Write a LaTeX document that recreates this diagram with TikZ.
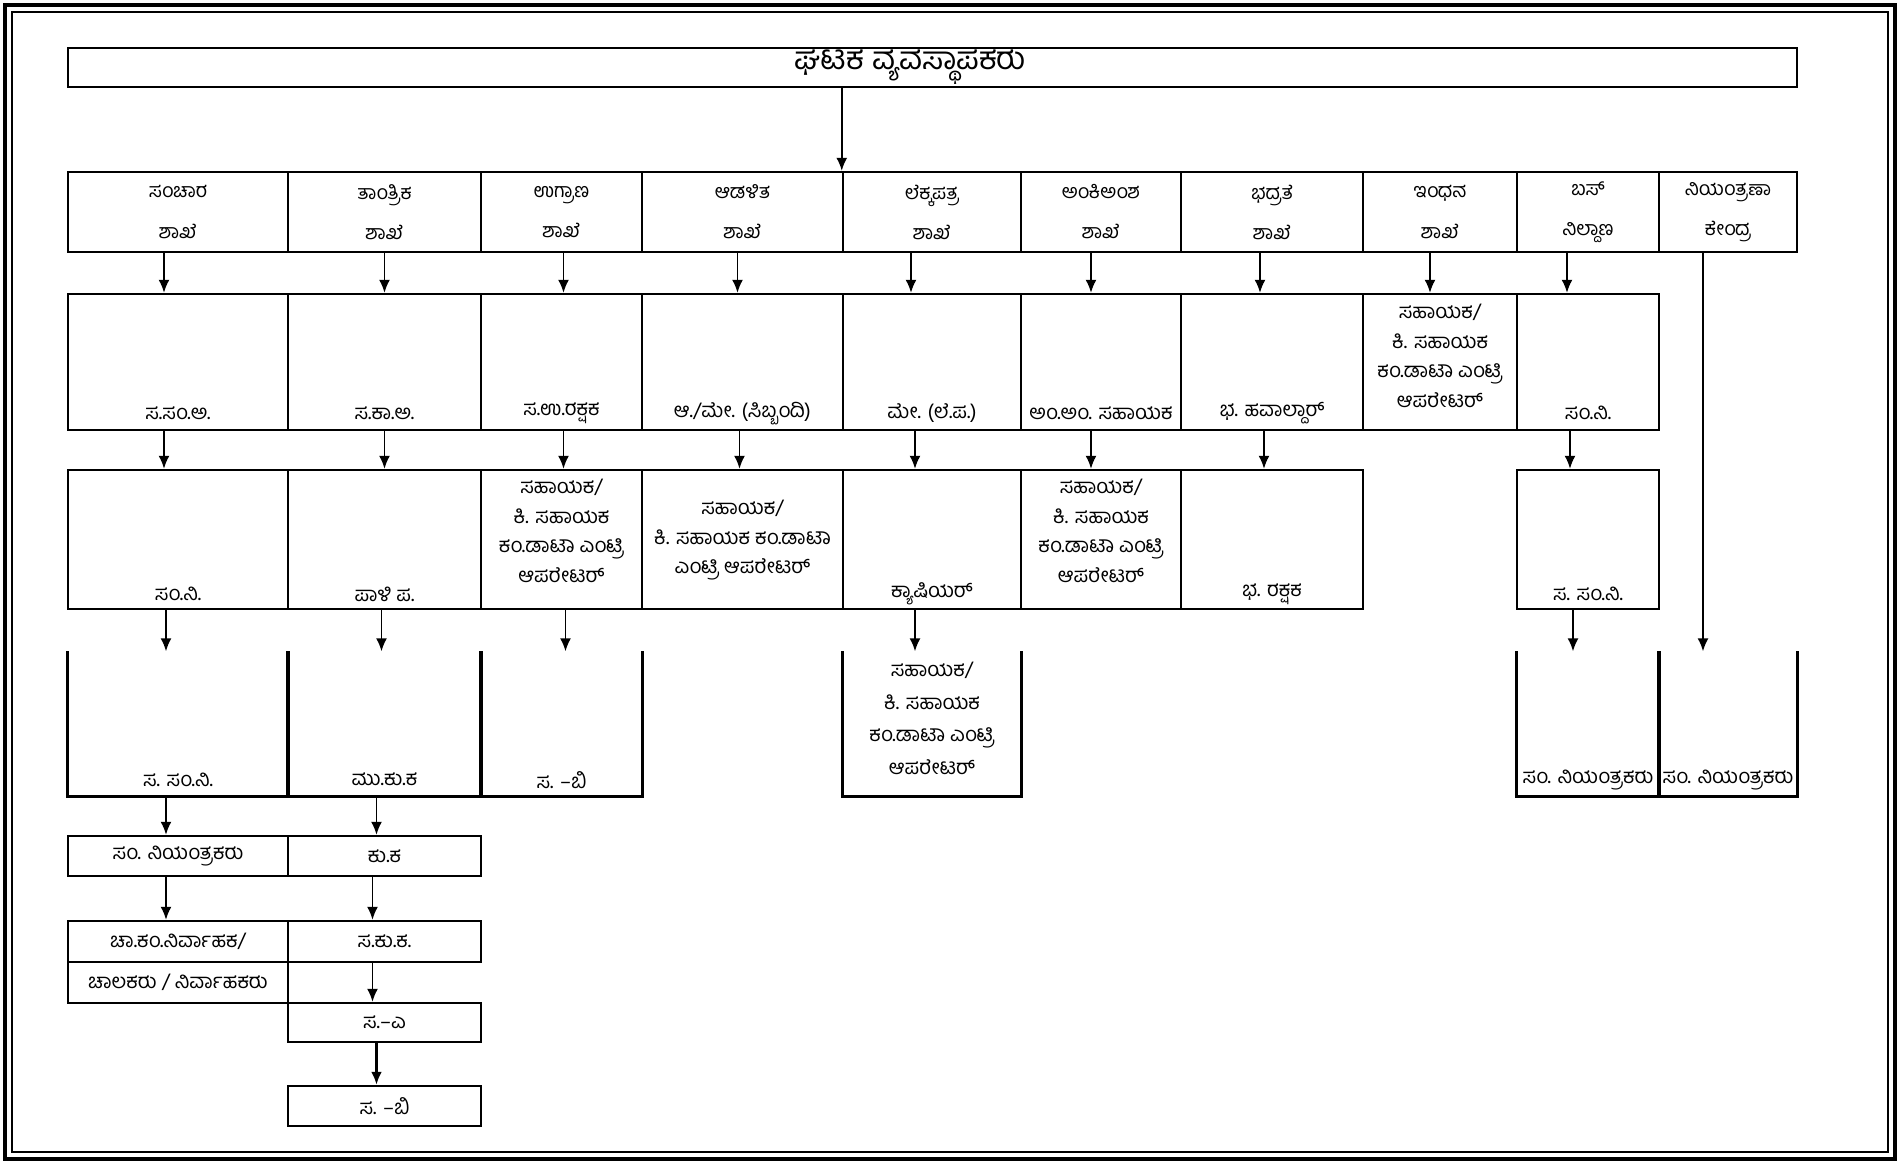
\documentclass[tikz,border=0pt]{standalone}
\usepackage{fontspec}
\newfontfamily\kn[Script=Kannada]{Hind Mysuru}
\usetikzlibrary{arrows.meta, positioning, calc}

\begin{document}
\begin{tikzpicture}[x=0.1mm, y=-0.1mm,
  box/.style n args={4}{inner sep=0pt, minimum width={(#3-#1)*0.1mm}, minimum height={(#4-#2)*0.1mm}, at={({(#1+#3)/2},{(#2+#4)/2})}},
  cell/.style={draw, line width=0.7pt},
  txt/.style={font=\kn\fontsize{5.8}{8.4}\selectfont, align=center, inner sep=0pt},
  head/.style={font=\kn\fontsize{5.6}{11.4}\selectfont, align=center},
  arr/.style={-{Latex[length=1.3mm, width=1.1mm]}, line width=0.5pt}]
% Page frame
\useasboundingbox (0,0) rectangle (1900,1164);
\draw[line width=1.2pt] (5,5) rectangle (1895,1159);
\draw[line width=0.4pt] (12,12) rectangle (1888,1152);

% Depot manager
\node[box={68}{48}{1797}{87}, cell] (dm) {};
\node[font=\kn\fontsize{9}{10}\selectfont, inner sep=0pt] (dmt) at ([xshift=-2.2mm]dm.center) {ಘಟಕ ವ್ಯವಸ್ಥಾಪಕರು};

% Sections
\foreach \i/\xa/\xb/\t in {1/68/288/{ಸಂಚಾರ\\ಶಾಖೆ}, 2/288/481/{ತಾಂತ್ರಿಕ\\ಶಾಖೆ}, 3/481/642/{ಉಗ್ರಾಣ\\ಶಾಖೆ}, 4/642/843/{ಆಡಳಿತ\\ಶಾಖೆ}, 5/843/1021/{ಲೆಕ್ಕಪತ್ರ\\ಶಾಖೆ}, 6/1021/1181/{ಅಂಕಿಅಂಶ\\ಶಾಖೆ}, 7/1181/1363/{ಭದ್ರತೆ\\ಶಾಖೆ}, 8/1363/1517/{ಇಂಧನ\\ಶಾಖೆ}, 9/1517/1659/{ಬಸ್\\ನಿಲ್ದಾಣ}, 10/1659/1797/{ನಿಯಂತ್ರಣಾ\\ಕೇಂದ್ರ}}
  \node[box={\xa}{172}{\xb}{252}, cell, head] (h\i) {\t};
\draw[arr] (dm.south -| h5.west) -- (h5.north west);

% Second level
\foreach \i/\xa/\xb in {1/68/288, 2/288/481, 3/481/642, 4/642/843, 5/843/1021, 6/1021/1181, 7/1181/1363, 8/1363/1517, 9/1517/1659}
  \node[box={\xa}{294}{\xb}{430}, cell] (r2c\i) {};
\foreach \i/\t in {1/{ಸ.ಸಂ.ಅ.}, 2/{ಸ.ಕಾ.ಅ.}, 3/{ಸ.ಉ.ರಕ್ಷಕ}, 4/{ಆ./ಮೇ. (ಸಿಬ್ಬಂದಿ)}, 5/{ಮೇ. (ಲೆ.ಪ.)}, 6/{ಅಂ.ಅಂ. ಸಹಾಯಕ}, 7/{ಭ. ಹವಾಲ್ದಾರ್}, 9/{ಸಂ.ನಿ.}}
  \node[txt] (t2c\i) at ([yshift=1.8mm]r2c\i.south) {\t};
\node[txt, anchor=north] (t2c8) at ([yshift=-1.1mm]r2c8.north) {ಸಹಾಯಕ/\\ಕಿ. ಸಹಾಯಕ\\ಕಂ.ಡಾಟಾ ಎಂಟ್ರಿ\\ಆಪರೇಟರ್};
\foreach \i/\dx in {1/-1.4, 2/0, 3/0.2, 4/-0.5, 5/-2.1, 6/-1, 7/-1.2, 8/-1, 9/-2.1}
  \draw[arr] ([xshift=\dx mm]h\i.south) -- ([xshift=\dx mm]r2c\i.north);

% Third level
\foreach \i/\xa/\xb in {1/68/288, 2/288/481, 3/481/642, 4/642/843, 5/843/1021, 6/1021/1181, 7/1181/1363, 9/1517/1659}
  \node[box={\xa}{470}{\xb}{609}, cell] (r3c\i) {};
\foreach \i/\t in {1/{ಸಂ.ನಿ.}, 2/{ಪಾಳಿ ಪ.}, 5/{ಕ್ಯಾಷಿಯರ್}, 7/{ಭ. ರಕ್ಷಕ}, 9/{ಸ. ಸಂ.ನಿ.}}
  \node[txt] (t3c\i) at ([yshift=1.6mm]r3c\i.south) {\t};
\foreach \i in {3,6}
  \node[txt, anchor=north] (t3c\i) at ([yshift=-1.0mm]r3c\i.north) {ಸಹಾಯಕ/\\ಕಿ. ಸಹಾಯಕ\\ಕಂ.ಡಾಟಾ ಎಂಟ್ರಿ\\ಆಪರೇಟರ್};
\node[txt] (t3c4) at ([yshift=-0.1mm]r3c4.center) {ಸಹಾಯಕ/\\ಕಿ. ಸಹಾಯಕ ಕಂ.ಡಾಟಾ\\ಎಂಟ್ರಿ ಆಪರೇಟರ್};
\foreach \i/\dx in {1/-1.4, 2/0, 3/0.2, 4/-0.3, 5/-1.7, 6/-1, 7/-0.8, 9/-1.8}
  \draw[arr] ([xshift=\dx mm]r2c\i.south) -- ([xshift=\dx mm]r3c\i.north);

% Fourth level (open at the top)
\foreach \i/\xa/\xb in {1/68/288, 2/288/481, 3/481/642, 5/843/1021, 9/1517/1659, 10/1659/1797}{
  \node[box={\xa}{652}{\xb}{796}] (r4c\i) {};
  \draw[line width=0.7pt] (r4c\i.north west) -- (r4c\i.south west) -- (r4c\i.south east) -- (r4c\i.north east);
}
\foreach \i/\t in {1/{ಸ. ಸಂ.ನಿ.}, 2/{ಮು.ಕು.ಕ}, 3/{ಸ. –ಬಿ}, 9/{ಸಂ. ನಿಯಂತ್ರಕರು}, 10/{ಸಂ. ನಿಯಂತ್ರಕರು}}
  \node[txt] (t4c\i) at ([yshift=1.7mm]r4c\i.south) {\t};
\node[txt, anchor=north, font=\kn\fontsize{5.8}{9.3}\selectfont] (t4c5) at ([yshift=-1.0mm]r4c5.north) {ಸಹಾಯಕ/\\ಕಿ. ಸಹಾಯಕ\\ಕಂ.ಡಾಟಾ ಎಂಟ್ರಿ\\ಆಪರೇಟರ್};
\foreach \i/\dx in {1/-1.2, 2/-0.3, 3/0.4, 5/-1.7, 9/-1.5}
  \draw[arr] ([xshift=\dx mm]r3c\i.south) -- ([xshift=\dx mm]r4c\i.north);
\draw[arr] ([xshift=-2.5mm]h10.south) -- ([xshift=-2.5mm]r4c10.north);

% Drivers and mechanics
\node[box={68}{836}{288}{876}, cell, txt] (r5c1) {ಸಂ. ನಿಯಂತ್ರಕರು};
\node[box={288}{836}{481}{876}, cell, txt] (r5c2) {ಕು.ಕ};
\node[box={68}{921}{288}{962}, cell, txt] (r6c1) {ಚಾ.ಕಂ.ನಿರ್ವಾಹಕ/};
\node[box={68}{962}{288}{1003}, cell, txt] (r6c1b) {ಚಾಲಕರು / ನಿರ್ವಾಹಕರು};
\node[box={288}{921}{481}{962}, cell, txt] (r6c2) {ಸ.ಕು.ಕ.};
\node[box={288}{1003}{481}{1042}, cell, txt] (r7c2) {ಸ.–ಎ};
\node[box={288}{1086}{481}{1126}, cell, txt] (r8c2) {ಸ. –ಬಿ};
\draw[arr] ([xshift=-1.2mm]r4c1.south) -- ([xshift=-1.2mm]r5c1.north);
\draw[arr] ([xshift=-0.8mm]r4c2.south) -- ([xshift=-0.8mm]r5c2.north);
\draw[arr] ([xshift=-1.2mm]r5c1.south) -- ([xshift=-1.2mm]r6c1.north);
\draw[arr] ([xshift=-1.2mm]r5c2.south) -- ([xshift=-1.2mm]r6c2.north);
\draw[arr] ([xshift=-1.2mm]r6c2.south) -- ([xshift=-1.2mm]r7c2.north);
\draw[arr, line width=0.9pt] ([xshift=-0.8mm]r7c2.south) -- ([xshift=-0.8mm]r8c2.north);
\end{tikzpicture}
\end{document}
